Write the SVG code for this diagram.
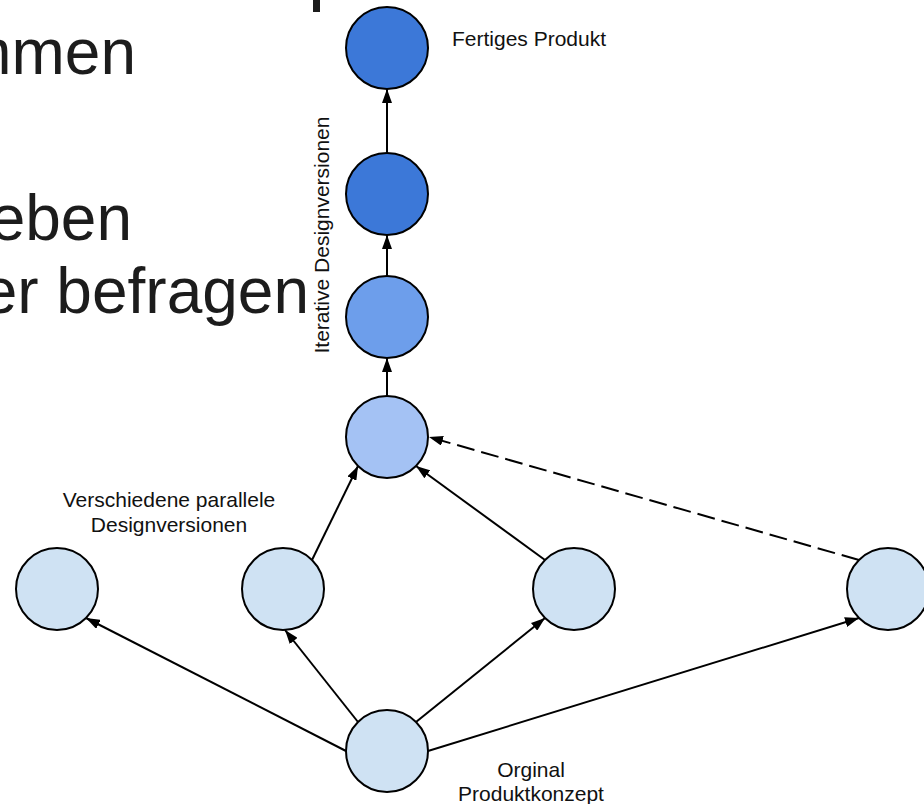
<svg xmlns="http://www.w3.org/2000/svg" width="924" height="804" viewBox="0 0 924 804">
<style>
.node{stroke:#000;stroke-width:2}
.dark{fill:#3c78d8}
.mid{fill:#6d9eeb}
.light{fill:#a4c2f4}
.pale{fill:#cfe2f3}
.conn{stroke:#000;stroke-width:2;fill:none;marker-end:url(#arr)}
.dash{stroke-dasharray:18 7}
.lbl{font-family:"Liberation Sans",Arial,sans-serif;font-size:21px;fill:#111}
.big{font-family:"Liberation Sans",Arial,sans-serif;font-size:64px;fill:#1c1c1c;text-anchor:end}
</style>
<defs>
<marker id="arr" markerUnits="userSpaceOnUse" markerWidth="14" markerHeight="10" refX="14" refY="5" orient="auto" viewBox="0 0 14 10">
<path d="M0,0 L14,5 L0,10 z" fill="#000"/>
</marker>
</defs>
<rect width="924" height="804" fill="#fff"/>
<g id="slide-text">
<rect x="313" y="0" width="7" height="12" fill="#1c1c1c"/>
<text class="big" x="136" y="74">mmen</text>
<text class="big" x="132" y="240">eben</text>
<text class="big" x="309" y="313">er befragen</text>
</g>
<g id="connectors">
<line class="conn" x1="387" y1="153" x2="387" y2="89"/>
<line class="conn" x1="387" y1="276" x2="387" y2="235"/>
<line class="conn" x1="387" y1="396" x2="387" y2="358"/>
<line class="conn" x1="312" y1="560" x2="358" y2="466"/>
<line class="conn" x1="545" y1="560" x2="416" y2="466"/>
<line class="conn dash" x1="859" y1="560" x2="429" y2="437"/>
<line class="conn" x1="346" y1="751" x2="86" y2="618"/>
<line class="conn" x1="358" y1="722" x2="285" y2="630"/>
<line class="conn" x1="416" y1="722" x2="545" y2="618"/>
<line class="conn" x1="428" y1="751" x2="859" y2="618"/>
</g>
<g id="n1"><circle class="node dark" cx="387" cy="48" r="41"/></g>
<g id="n2"><circle class="node dark" cx="387" cy="194" r="41"/></g>
<g id="n3"><circle class="node mid" cx="387" cy="317" r="41"/></g>
<g id="n4"><circle class="node light" cx="387" cy="437" r="41"/></g>
<g id="p1"><circle class="node pale" cx="57" cy="589" r="41"/></g>
<g id="p2"><circle class="node pale" cx="283" cy="589" r="41"/></g>
<g id="p3"><circle class="node pale" cx="574" cy="589" r="41"/></g>
<g id="p4"><circle class="node pale" cx="888" cy="589" r="41"/></g>
<g id="origin"><circle class="node pale" cx="387" cy="751" r="41"/></g>
<g id="labels">
<text class="lbl" x="452" y="46">Fertiges Produkt</text>
<text class="lbl" text-anchor="middle" transform="translate(329,235) rotate(-90)">Iterative Designversionen</text>
<text class="lbl" text-anchor="middle" x="169" y="507">Verschiedene parallele</text>
<text class="lbl" text-anchor="middle" x="169" y="532">Designversionen</text>
<text class="lbl" text-anchor="middle" x="531" y="777">Orginal</text>
<text class="lbl" text-anchor="middle" x="531" y="801">Produktkonzept</text>
</g>
</svg>
